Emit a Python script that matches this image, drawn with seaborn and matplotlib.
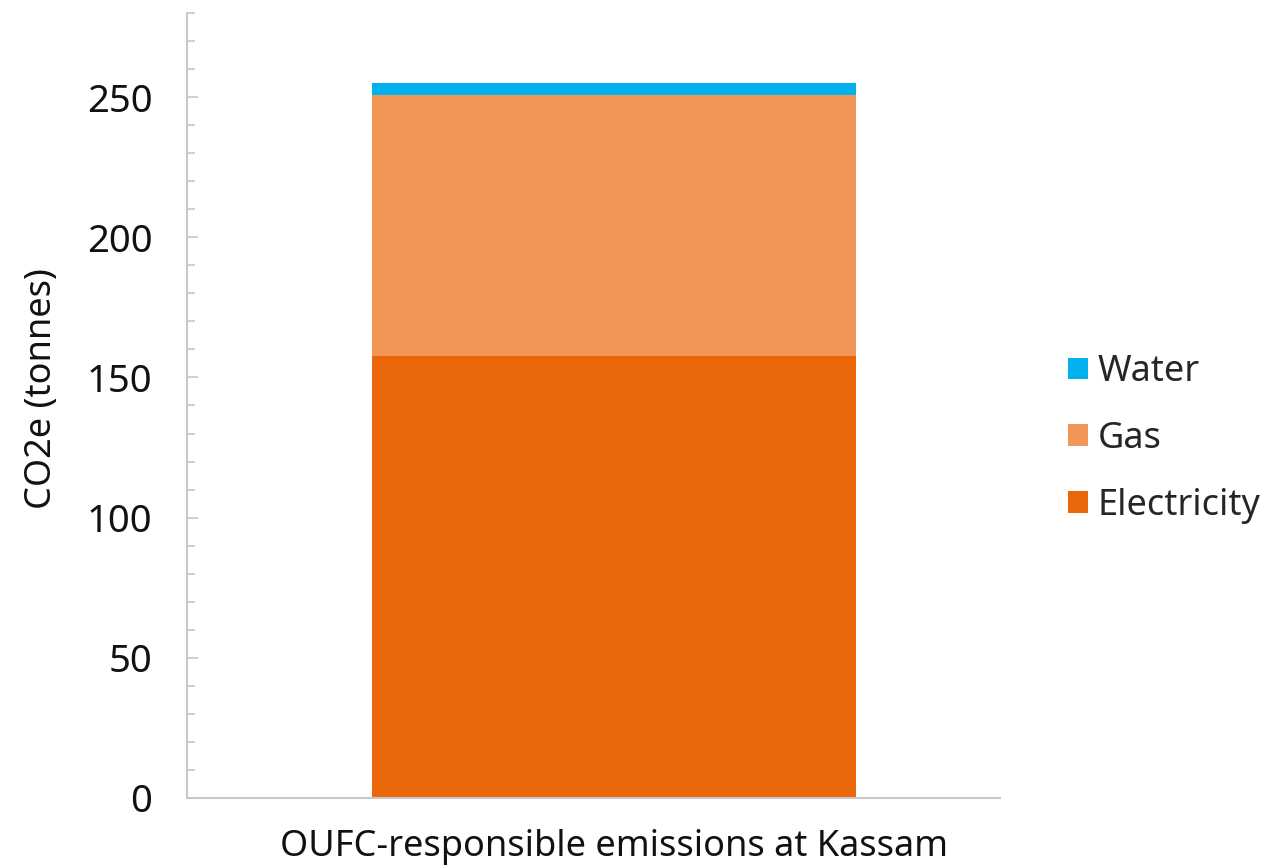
import matplotlib
matplotlib.use("Agg")
import matplotlib.pyplot as plt
from matplotlib.ticker import MultipleLocator
from matplotlib.patches import Patch
import numpy as np
import pandas as pd
import seaborn as sns

# Emission sources (tonnes CO2e), stacked bottom to top
category = ["OUFC-responsible emissions at Kassam"]
sources = ["Electricity", "Gas", "Water"]
electricity = [157.5]
gas = [93.2]
water = [4.3]
colors = {"Electricity": "#EA6709", "Gas": "#F09657", "Water": "#00B1EE"}

sns.set_theme(style="white")
plt.rcParams["font.family"] = ["Noto Sans", "DejaVu Sans"]

fig = plt.figure(figsize=(12.68, 8.65), dpi=100)
ax = fig.add_axes([0.1475, 0.0775, 0.6411, 0.9075])

values = {"Electricity": electricity, "Gas": gas, "Water": water}
cum = np.zeros(len(category))
tops = {}
for s in sources:
    cum = cum + np.array(values[s])
    tops[s] = cum.copy()

# Draw cumulative totals from tallest to shortest so each layer shows its segment
for s in reversed(sources):
    df = pd.DataFrame({"cat": category, "val": tops[s]})
    sns.barplot(data=df, x="cat", y="val", color=colors[s], width=0.6,
                saturation=1, ax=ax, linewidth=0, errorbar=None)

ax.set_ylim(0, 280)
ax.set_xlim(-0.529, 0.4785)
ax.yaxis.set_major_locator(MultipleLocator(50))
ax.yaxis.set_minor_locator(MultipleLocator(10))
ax.tick_params(axis="y", which="major", direction="in", length=8, width=1.2,
               color="#C8C8C8", labelsize=27.5, pad=25, left=True)
ax.tick_params(axis="y", which="minor", direction="in", length=6, width=1.2,
               color="#C8C8C8", left=True)
ax.tick_params(axis="x", length=0, labelsize=26, pad=22)
for lbl in ax.get_yticklabels() + ax.get_xticklabels():
    lbl.set_color("#111111")

for side in ["top", "right"]:
    ax.spines[side].set_visible(False)
for side in ["left", "bottom"]:
    ax.spines[side].set_color("#C8C8C8")
    ax.spines[side].set_linewidth(1.5)

ax.set_xlabel("")
ax.set_ylabel("CO2e (tonnes)", fontsize=26, color="#111111")
ax.yaxis.set_label_coords(-0.156, 0.522)

handles = [Patch(facecolor=colors[s], edgecolor="none") for s in reversed(sources)]
fig.legend(handles, list(reversed(sources)), loc="center left",
           bbox_to_anchor=(0.817, 0.4924), frameon=False, fontsize=26,
           handlelength=0.55, handleheight=0.55, handletextpad=0.25,
           labelspacing=0.85)

fig.savefig("out.png", dpi=100, facecolor="white")
